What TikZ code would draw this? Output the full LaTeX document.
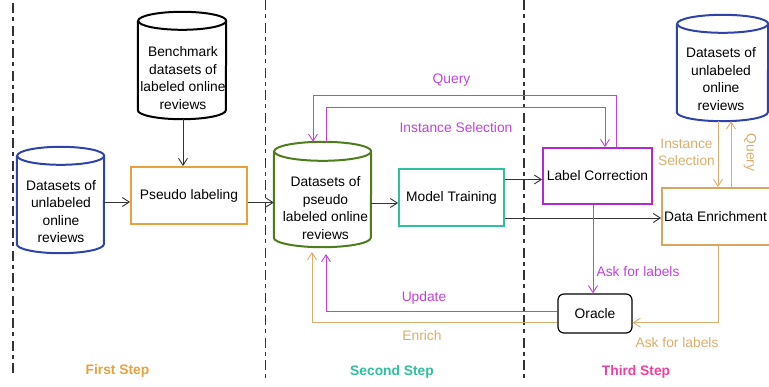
\documentclass[tikz,border=0pt]{standalone}
\usepackage{fontspec}
\setmainfont{Liberation Sans}
\usetikzlibrary{arrows.meta,calc}
\definecolor{cblue}{HTML}{2E44AA}
\definecolor{cgreen}{HTML}{4F7D1D}
\definecolor{corange}{HTML}{E9A23B}
\definecolor{cteal}{HTML}{2EC0A0}
\definecolor{cviolet}{HTML}{B428D2}
\definecolor{cmag}{HTML}{C043DC}
\definecolor{cpink}{HTML}{F0409C}
\definecolor{ctan}{HTML}{DAAE6E}
\definecolor{ctanbox}{HTML}{D8A660}
\definecolor{cgray}{HTML}{333333}
\newcommand{\drawcyl}[4]{% name, colour, half width, ry
  \draw[#2, line width=2pt] ($(#1.north west)+(0,-#4)$) -- ($(#1.south west)+(0,#4)$)
    arc[start angle=180, end angle=360, x radius=#3pt, y radius=#4pt]
    -- ($(#1.north east)+(0,-#4)$)
    arc[start angle=0, end angle=360, x radius=#3pt, y radius=#4pt];}
\tikzset{
  txt/.style={font=\fontsize{13.8}{17.5}\selectfont, align=center, inner sep=0pt, text=black},
  lbl/.style={font=\fontsize{13.8}{17.5}\selectfont, align=center, inner sep=0pt},
  steplbl/.style={font=\fontsize{13.8}{17.5}\selectfont\bfseries, inner sep=0pt},
  cylbody/.style={rectangle, draw=none, inner sep=0pt},
  boxn/.style={rectangle, line width=1.8pt, inner sep=0pt, font=\fontsize{13.8}{17.5}\selectfont},
  arr/.style={-{Straight Barb[length=7pt,width=9pt]}},
  conn/.style={line width=0.9pt, draw=cgray},
  magline/.style={line width=0.9pt, draw=cmag},
  tanline/.style={line width=0.9pt, draw=ctan},
  divider/.style={line width=1.1pt, draw=cgray, dash pattern=on 10pt off 4pt on 4pt off 4.5pt},
}
\begin{document}
\begin{tikzpicture}[x=1pt,y=1pt]
\useasboundingbox (0,0) rectangle (769,-386);

% dividers
\coordinate (d1a) at (13,-3);   \coordinate (d1b) at (13,-375);
\coordinate (d2a) at (265.5,0); \coordinate (d2b) at (265.5,-378);
\coordinate (d3a) at (524,0);   \coordinate (d3b) at (524,-378);
\draw[divider] (d1a) -- (d1b);
\draw[divider] (d2a) -- (d2b);
\draw[divider] (d3a) -- (d3b);

% cylinders
\node[cylbody, minimum width=87pt, minimum height=106pt] (u1) at (60.5,-200) {};
\drawcyl{u1}{cblue}{43.5}{9}
\node[txt] (u1t) at (61,-211.5) {Datasets of\\unlabeled\\online\\reviews};

\node[cylbody, minimum width=88pt, minimum height=107pt] (bench) at (182,-65.5) {};
\drawcyl{bench}{black}{44}{9}
\node[txt] (bencht) at (183,-78) {Benchmark\\datasets of\\labeled online\\reviews};

\node[cylbody, minimum width=97pt, minimum height=105pt] (green) at (322.5,-194.5) {};
\drawcyl{green}{cgreen}{48.5}{9.5}
\node[txt] (greent) at (325.5,-208) {Datasets of\\pseudo\\labeled online\\reviews};

\node[cylbody, minimum width=91pt, minimum height=106pt] (u2) at (722.5,-68) {};
\drawcyl{u2}{cblue}{45.5}{9}
\node[txt] (u2t) at (721,-79) {Datasets of\\unlabeled\\online\\reviews};

% boxes
\node[boxn, draw=corange, minimum width=116pt, minimum height=57pt] (pseudo) at (189,-195.5) {Pseudo labeling};
\node[boxn, draw=cteal, minimum width=105pt, minimum height=57pt] (model) at (451.5,-197.5) {Model Training};
\node[boxn, draw=cviolet, minimum width=109pt, minimum height=56pt] (labcor) at (597.5,-176) {Label Correction};
\node[boxn, draw=ctanbox, minimum width=110pt, minimum height=57pt] (enrich) at (717,-216.5) {};
\node[txt] (enricht) at (715.5,-216.5) {Data Enrichment};
\node[boxn, draw=black, line width=1.2pt, rounded corners=6pt, minimum width=74pt, minimum height=39pt] (oracle) at (595,-313.5) {Oracle};

% black connectors
\draw[conn,arr] (u1.east |- 0,-202) -- (pseudo.west |- 0,-202);
\draw[conn,arr] (bench.south -| 183,0) -- (183,0 |- pseudo.north);
\draw[conn,arr] (pseudo.east |- 0,-202.5) -- (green.west |- 0,-202.5);
\draw[conn,arr] (green.east |- 0,-203) -- (model.west |- 0,-203);
\draw[conn,arr] (model.east |- 0,-179.5) -- (labcor.west |- 0,-179.5);
\draw[conn,arr] (model.east |- 0,-218) -- (enrich.west |- 0,-218);

% magenta connectors
\draw[magline,arr] (labcor.north -| 616,0) |- (313,-95) -- (313,0 |- green.north);
\draw[magline,arr] (green.north -| 326,0) |- (605,-107.5) -- (605,0 |- labcor.north);
\draw[magline,arr] (labcor.south -| 593,0) -- (593,0 |- oracle.north);
\draw[magline,arr] (oracle.west |- 0,-311.5) -| (326,-254);

% tan connectors
\draw[tanline,arr] (oracle.west |- 0,-322.7) -| (312,-252);
\draw[tanline,arr] (enrich.south -| 718,0) |- (oracle.east |- 0,-322.7);
\draw[tanline,arr] (u2.south -| 718,0) -- (718,0 |- enrich.north);
\draw[tanline,arr] (731,0 |- enrich.north) -- (731,0 |- u2.south);

% labels
\node[lbl, text=cmag] (lq) at (451.5,-80.5) {Query};
\node[lbl, text=cmag] (lis) at (456,-127.5) {Instance Selection};
\node[lbl, text=cmag] (lup) at (424,-298) {Update};
\node[lbl, text=cmag] (lask) at (638,-272) {Ask for labels};
\node[lbl, text=ctan] (len) at (422,-336) {Enrich};
\node[lbl, text=ctan] (lask2) at (677,-343) {Ask for labels};
\node[lbl, text=ctan] (lis2) at (686.5,-152.5) {Instance\\Selection};
\node[lbl, text=ctan, rotate=-90] (lq2) at (750,-152.5) {Query};

\node[steplbl, text=corange] (s1) at (117.5,-371) {First Step};
\node[steplbl, text=cteal] (s2) at (392,-372) {Second Step};
\node[steplbl, text=cpink] (s3) at (636,-372) {Third Step};
\end{tikzpicture}
\end{document}
